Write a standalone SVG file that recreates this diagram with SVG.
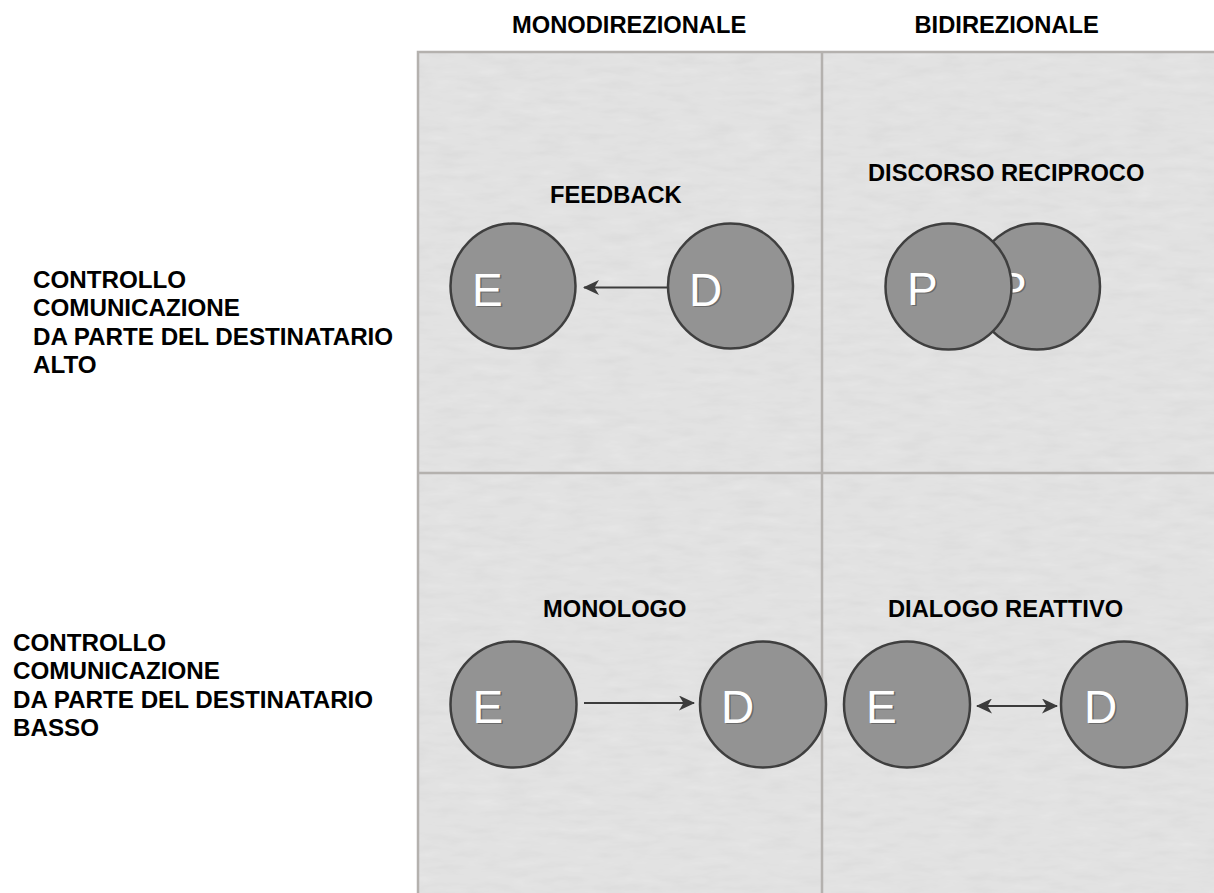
<svg xmlns="http://www.w3.org/2000/svg" width="1214" height="893" viewBox="0 0 1214 893">
  <style>
    .lbl { font-family: "Liberation Sans", Arial, sans-serif; font-weight: bold; font-size: 23.7px; fill: #000; }
    .side { font-size: 24.2px; }
    .node { fill: #939393; stroke: #3f3f3f; stroke-width: 2.5; }
    .ltr { font-family: "Liberation Sans", Arial, sans-serif; font-size: 46px; fill: #ffffff; }
    .sh { font-family: "Liberation Sans", Arial, sans-serif; font-size: 46px; fill: #6a6a6a; }
    .grid { stroke: #b4b1ae; stroke-width: 2.5; fill: none; }
    .conn { stroke: #3c3c3c; stroke-width: 2; fill: none; }
  </style>
  <defs>
    <marker id="arr" viewBox="0 0 16 15" refX="15" refY="7.5" markerWidth="16" markerHeight="15" markerUnits="userSpaceOnUse" orient="auto-start-reverse">
      <path d="M0,0 L16,7.5 L0,15 L4.5,7.5 z" fill="#3c3c3c"/>
    </marker>
    <filter id="paper" x="0" y="0" width="100%" height="100%">
      <feTurbulence type="fractalNoise" baseFrequency="0.03 0.12" numOctaves="3" seed="4" result="n"/>
      <feColorMatrix in="n" type="matrix" values="0 0 0 0 0  0 0 0 0 0  0 0 0 0 0  0 0 0 0.05 0" result="a"/>
      <feComposite in="a" in2="SourceGraphic" operator="in"/>
    </filter>
  </defs>

  <rect width="1214" height="893" fill="#ffffff"/>

  <g id="grid">
    <rect x="418" y="52" width="800" height="845" fill="#e7e7e7"/>
    <rect x="418" y="52" width="800" height="845" fill="#e7e7e7" filter="url(#paper)"/>
    <rect class="grid" x="418" y="52" width="800" height="845"/>
    <line class="grid" x1="822" y1="52" x2="822" y2="893"/>
    <line class="grid" x1="418" y1="473" x2="1214" y2="473"/>
  </g>

  <g id="headers">
    <text id="h-mono" class="lbl" x="512" y="33">MONODIREZIONALE</text>
    <text id="h-bi" class="lbl" x="914.5" y="33">BIDIREZIONALE</text>
  </g>

  <g id="row-alto">
    <text class="lbl side" x="33" y="288">CONTROLLO</text>
    <text class="lbl side" x="33" y="316.3">COMUNICAZIONE</text>
    <text class="lbl side" x="33" y="344.6">DA PARTE DEL DESTINATARIO</text>
    <text class="lbl side" x="33" y="373">ALTO</text>
  </g>
  <g id="row-basso">
    <text class="lbl side" x="13" y="651">CONTROLLO</text>
    <text class="lbl side" x="13" y="679.3">COMUNICAZIONE</text>
    <text class="lbl side" x="13" y="707.7">DA PARTE DEL DESTINATARIO</text>
    <text class="lbl side" x="13" y="736">BASSO</text>
  </g>

  <g id="titles">
    <text id="t-feedback" class="lbl" x="550" y="203">FEEDBACK</text>
    <text id="t-discorso" class="lbl" x="868" y="181">DISCORSO RECIPROCO</text>
    <text id="t-monologo" class="lbl" x="543" y="617">MONOLOGO</text>
    <text id="t-dialogo" class="lbl" x="888" y="617">DIALOGO REATTIVO</text>
  </g>

  <g id="connectors">
    <line class="conn" x1="667" y1="287.5" x2="584" y2="287.5" marker-end="url(#arr)"/>
    <line class="conn" x1="584" y1="703" x2="694" y2="703" marker-end="url(#arr)"/>
    <line class="conn" x1="977" y1="706" x2="1057" y2="706" marker-start="url(#arr)" marker-end="url(#arr)"/>
  </g>

  <g id="feedback-E">
    <circle class="node" cx="513" cy="286" r="62.5"/>
    <text class="sh" x="473.5" y="307">E</text>
    <text class="ltr" x="472" y="306">E</text>
  </g>
  <g id="feedback-D">
    <circle class="node" cx="730.5" cy="286" r="62.5"/>
    <text class="sh" x="690.5" y="307">D</text>
    <text class="ltr" x="689" y="306">D</text>
  </g>

  <g id="discorso-P2">
    <circle class="node" cx="1037" cy="286.5" r="63"/>
    <text class="sh" x="997.5" y="306">P</text>
    <text class="ltr" x="996" y="305">P</text>
  </g>
  <g id="discorso-P1">
    <circle class="node" cx="948.5" cy="286.5" r="63"/>
    <text class="sh" x="908.5" y="306">P</text>
    <text class="ltr" x="907" y="305">P</text>
  </g>

  <g id="monologo-E">
    <circle class="node" cx="513.5" cy="704.5" r="63"/>
    <text class="sh" x="474" y="723.5">E</text>
    <text class="ltr" x="472.5" y="722.5">E</text>
  </g>
  <g id="monologo-D">
    <circle class="node" cx="763" cy="704.5" r="63"/>
    <text class="sh" x="722.5" y="723.5">D</text>
    <text class="ltr" x="721" y="722.5">D</text>
  </g>

  <g id="dialogo-E">
    <circle class="node" cx="907" cy="704.5" r="63"/>
    <text class="sh" x="867.5" y="723.5">E</text>
    <text class="ltr" x="866" y="722.5">E</text>
  </g>
  <g id="dialogo-D">
    <circle class="node" cx="1124" cy="704.5" r="63"/>
    <text class="sh" x="1085.5" y="723.5">D</text>
    <text class="ltr" x="1084" y="722.5">D</text>
  </g>
</svg>
